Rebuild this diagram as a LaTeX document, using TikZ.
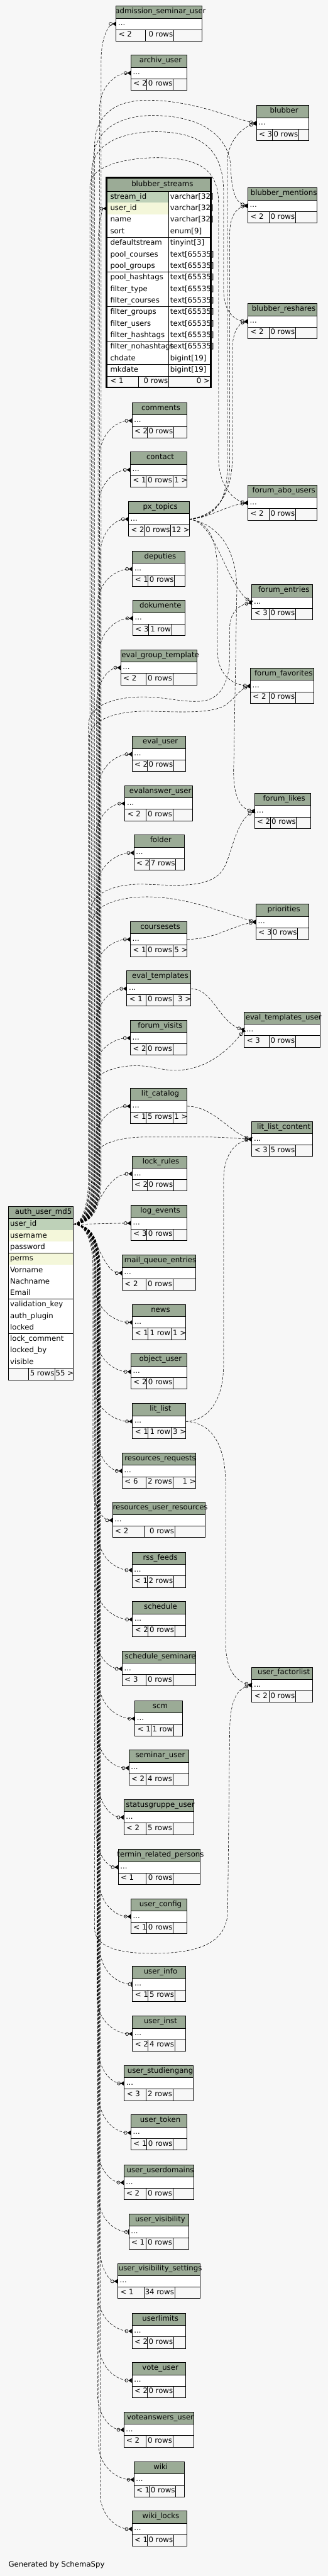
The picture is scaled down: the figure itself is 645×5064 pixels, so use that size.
\documentclass[tikz,border=0pt]{standalone}
\usepackage{fontspec}
\setmainfont{DejaVu Sans}
\usepackage{xcolor}
\definecolor{HeadGreen}{HTML}{9BAB96}
\definecolor{KeyGreen}{HTML}{BED1B8}
\definecolor{IndexCream}{HTML}{F4F7DA}
\definecolor{PaperGrey}{HTML}{F7F7F7}
\usepackage{tikz}
\usetikzlibrary{positioning, arrows.meta}

\newcommand\tblfont{\fontsize{14.5}{17}\selectfont}
\newlength\tblw
\tikzset{
  tblline/.style={draw=black, line width=0.8pt},
  tbltext/.style={font=\tblfont, inner sep=0pt, text=black},
  rel/.style={dash pattern=on 5pt off 3pt, line width=0.7pt},
  crow/.style={-{Circle[open,length=7pt,width=7pt,line width=0.8pt] Triangle[reversed,length=7pt,width=9pt]}},
  zeroone/.style={-{Circle[open,length=7pt,width=7pt,line width=0.8pt] Bar[width=9pt,line width=1.6pt]}},
}

% Tabelle / Table: name, left, right, top, divider 1, divider 2, parents, rows, children
\newcommand\dbtable[9]{%
  \settowidth\tblw{\tblfont\detokenize{#1}}%
  \pgfmathsetmacro\hx{max((#2+#3)/2+3,#2+6+\tblw/2)}%
  \fill[PaperGrey] (#2,#4) rectangle (#3,#4+69);
  \fill[HeadGreen] (#2,#4) rectangle (#3,#4+24);
  \fill[white] (#2,#4+24) rectangle (#3,#4+46.5);
  \draw[tblline] (#2,#4) rectangle (#3,#4+69)
    (#2,#4+24) -- (#3,#4+24) (#2,#4+46.5) -- (#3,#4+46.5)
    (#5,#4+46.5) -- (#5,#4+69) (#6,#4+46.5) -- (#6,#4+69);
  \node[tbltext, anchor=base] (#1-head) at (\hx,#4+15) {\detokenize{#1}};
  \node[tbltext, anchor=base west] (#1-dots) at (#2+4,#4+38.5) {...};
  \node[tbltext, anchor=base west] (#1-in) at (#2+5,#4+61) {#7};
  \node[tbltext, anchor=base east] (#1-rows) at (#6-1,#4+61) {#8};
  \node[tbltext, anchor=base east] (#1-refs) at (#3+1,#4+61) {#9};
  \coordinate (#1) at (#2,#4+35.3);
  \coordinate (#1-out) at (#3,#4+35.3);
}

\begin{document}
\begin{tikzpicture}[x=1pt,y=-1pt]
  \useasboundingbox (0,0) rectangle (645,5064);
  \fill[PaperGrey] (0,0) rectangle (645,5064);

  % Kindtabellen / Child tables
  \dbtable{admission_seminar_user}{228.3}{397.4}{11.7}{285.5}{341.4}{< 2}{0 rows}{}
  \dbtable{archiv_user}{257.5}{368.2}{108.3}{288.8}{340.6}{< 2}{0 rows}{}
  \dbtable{blubber}{504.3}{607.6}{207.3}{535.6}{587.4}{< 3}{0 rows}{}
  \dbtable{blubber_mentions}{487.5}{623.2}{369.3}{529.4}{581.2}{< 2}{0 rows}{}
  \dbtable{blubber_reshares}{487.5}{623.2}{596.7}{529.4}{581.2}{< 2}{0 rows}{}
  \dbtable{comments}{259.6}{367.3}{791.7}{289.6}{341.4}{< 2}{0 rows}{}
  \dbtable{contact}{256.3}{368.2}{888.3}{287.5}{339.8}{< 1}{0 rows}{1 >}
  \dbtable{forum_abo_users}{487.5}{623.2}{953.3}{529.4}{581.2}{< 2}{0 rows}{}
  \dbtable{px_topics}{252.6}{372.3}{985.3}{283.4}{335.7}{< 2}{0 rows}{12 >}
  \dbtable{deputies}{260.4}{364}{1083.3}{291.2}{343.1}{< 1}{0 rows}{}
  \dbtable{forum_entries}{495.3}{615.4}{1149.3}{529.4}{581.2}{< 3}{0 rows}{}
  \dbtable{dokumente}{261.2}{364}{1180.3}{292.5}{337.3}{< 3}{1 row}{}
  \dbtable{eval_group_template}{237.4}{387.5}{1277.3}{287.5}{339.8}{< 2}{0 rows}{}
  \dbtable{forum_favorites}{492.4}{617.4}{1313.3}{529.4}{581.2}{< 2}{0 rows}{}
  \dbtable{eval_user}{259.6}{365.3}{1447.3}{289.6}{341.4}{< 2}{0 rows}{}
  \dbtable{evalanswer_user}{245.6}{379.3}{1544.3}{287.5}{339.8}{< 2}{0 rows}{}
  \dbtable{forum_likes}{500.6}{611.3}{1559.3}{531.5}{583.3}{< 2}{0 rows}{}
  \dbtable{folder}{263.3}{363.2}{1641.3}{293.3}{345.5}{< 2}{7 rows}{}
  \dbtable{priorities}{503.5}{607.2}{1777.3}{533.5}{585.4}{< 3}{0 rows}{}
  \dbtable{coursesets}{256.3}{368.2}{1811.3}{287.5}{339.8}{< 1}{0 rows}{5 >}
  \dbtable{eval_templates}{249.3}{375.2}{1908.3}{287.5}{339.8}{< 1}{0 rows}{3 >}
  \dbtable{eval_templates_user}{480.5}{629.4}{1989.3}{529.4}{581.2}{< 3}{0 rows}{}
  \dbtable{forum_visits}{256.3}{368.2}{2005.3}{287.5}{339.8}{< 2}{0 rows}{}
  \dbtable{lit_catalog}{256.3}{368.2}{2139.3}{287.5}{339.8}{< 1}{5 rows}{1 >}
  \dbtable{lit_list_content}{495.3}{615.4}{2204.3}{529.4}{581.2}{< 3}{5 rows}{}
  \dbtable{lock_rules}{259.6}{367.3}{2272.3}{289.6}{341.4}{< 2}{0 rows}{}
  \dbtable{log_events}{257.5}{367.3}{2369.3}{288.8}{340.6}{< 3}{0 rows}{}
  \dbtable{mail_queue_entries}{240.2}{384.6}{2467.3}{287.5}{339.8}{< 2}{0 rows}{}
  \dbtable{news}{260.4}{365.3}{2564.3}{291.2}{336.5}{< 1}{1 row}{1 >}
  \dbtable{object_user}{257.5}{368.2}{2661.3}{288.8}{340.6}{< 2}{0 rows}{}
  \dbtable{lit_list}{260.4}{365.3}{2759}{291.2}{336.5}{< 1}{1 row}{3 >}
  \dbtable{resources_requests}{240.2}{384.6}{2856.3}{287.5}{339.8}{< 6}{2 rows}{1 >}
  \dbtable{resources_user_resources}{221.3}{403.5}{2953.3}{283.4}{343.5}{< 2}{0 rows}{}
  \dbtable{rss_feeds}{259.6}{365.3}{3051.3}{289.6}{341.4}{< 1}{2 rows}{}
  \dbtable{schedule}{260.4}{365.3}{3148.3}{291.2}{343.5}{< 2}{0 rows}{}
  \dbtable{schedule_seminare}{240.2}{384.6}{3245.3}{287.5}{339.8}{< 3}{0 rows}{}
  \dbtable{user_factorlist}{495.3}{615.4}{3277.3}{529.4}{581.2}{< 2}{0 rows}{}
  \dbtable{scm}{265.3}{359.1}{3343.3}{296.6}{341.4}{< 1}{1 row}{}
  \dbtable{seminar_user}{253.4}{371}{3440.3}{287.5}{339.8}{< 2}{4 rows}{}
  \dbtable{statusgruppe_user}{243.5}{381.3}{3537.3}{287.5}{339.8}{< 2}{5 rows}{}
  \dbtable{termin_related_persons}{232.4}{393.3}{3635.3}{287.5}{340.6}{< 1}{0 rows}{}
  \dbtable{user_config}{257.5}{368.2}{3732.3}{288.8}{340.6}{< 1}{0 rows}{}
  \dbtable{user_info}{260.4}{365.3}{3865.3}{291.2}{343.5}{< 1}{5 rows}{}
  \dbtable{user_inst}{260.4}{365.3}{3963}{291.2}{343.5}{< 2}{4 rows}{}
  \dbtable{user_studiengang}{244.3}{380.5}{4060.3}{287.5}{339.8}{< 3}{2 rows}{}
  \dbtable{user_token}{257.5}{367.3}{4157.3}{288.8}{340.6}{< 1}{0 rows}{}
  \dbtable{user_userdomains}{243.5}{381.3}{4255.3}{287.5}{339.8}{< 2}{0 rows}{}
  \dbtable{user_visibility}{253.4}{371}{4352.3}{287.5}{339.8}{< 1}{0 rows}{}
  \dbtable{user_visibility_settings}{231.6}{393.3}{4449.3}{283.4}{343.5}{< 1}{34 rows}{}
  \dbtable{userlimits}{259.6}{365.3}{4547.3}{289.6}{341.4}{< 2}{0 rows}{}
  \dbtable{vote_user}{259.6}{365.3}{4644.3}{289.6}{341.4}{< 2}{0 rows}{}
  \dbtable{voteanswers_user}{243.5}{381.3}{4741.3}{287.5}{339.8}{< 2}{0 rows}{}
  \dbtable{wiki}{263.3}{363.2}{4839.3}{293.3}{345.5}{< 1}{0 rows}{}
  \dbtable{wiki_locks}{259.6}{367.3}{4936.3}{289.6}{341.4}{< 1}{0 rows}{}

  % blubber_streams mit Spalten / with columns
  \fill[PaperGrey] (209.8,349.3) rectangle (414.6,761.7);
  \fill[HeadGreen] (209.8,349.3) rectangle (414.6,376);
  \foreach \col/\typ/\shade [count=\i from 0] in {stream\_id/varchar[32]/KeyGreen, user\_id/varchar[32]/IndexCream,
      name/varchar[32]/white, sort/enum[9]/white, defaultstream/tinyint[3]/white, pool\_courses/text[65535]/white,
      pool\_groups/text[65535]/white, pool\_hashtags/text[65535]/white, filter\_type/text[65535]/white,
      filter\_courses/text[65535]/white, filter\_groups/text[65535]/white, filter\_users/text[65535]/white,
      filter\_hashtags/text[65535]/white, filter\_nohashtags/text[65535]/white, chdate/bigint[19]/white, mkdate/bigint[19]/white}{
    \fill[\shade] (209.8,376+22.7*\i) rectangle (331.6,398.7+22.7*\i);
    \fill[white] (331.6,376+22.7*\i) rectangle (414.6,398.7+22.7*\i);
    \draw[tblline] (209.8,398.7+22.7*\i) -- (414.6,398.7+22.7*\i);
    \node[tbltext, anchor=base west] (bs-col\i) at (216.8,391+22.7*\i) {\col};
    \node[tbltext, anchor=base west] (bs-typ\i) at (334.8,391+22.7*\i) {\typ};
  }
  \draw[tblline] (209.8,376) -- (414.6,376) (331.6,376) -- (331.6,761.7) (272.3,739.2) -- (272.3,761.7);
  \draw[line width=3pt] (209.8,349.3) rectangle (414.6,761.7);
  \node[tbltext, anchor=base] (bs-head) at (319.4,366.5) {blubber\_streams};
  \node[tbltext, anchor=base west] (bs-in) at (216.8,754) {< 1};
  \node[tbltext, anchor=base east] (bs-rows) at (330.6,754) {0 rows};
  \node[tbltext, anchor=base east] (bs-refs) at (413,754) {0 >};
  \coordinate (blubber_streams) at (209.8,410);

  % auth_user_md5 mit Spalten / with columns
  \fill[PaperGrey] (16.5,2371.7) rectangle (144,2712.3);
  \fill[HeadGreen] (16.5,2371.7) rectangle (144,2395.7);
  \foreach \col/\shade [count=\i from 0] in {user\_id/KeyGreen, username/IndexCream, password/white, perms/IndexCream,
      Vorname/white, Nachname/white, Email/white, validation\_key/white, auth\_plugin/white, locked/white,
      lock\_comment/white, locked\_by/white, visible/white}{
    \fill[\shade] (16.5,2395.7+22.6*\i) rectangle (144,2418.3+22.6*\i);
    \draw[tblline] (16.5,2418.3+22.6*\i) -- (144,2418.3+22.6*\i);
    \node[tbltext, anchor=base west] (au-col\i) at (19.7,2410.7+22.6*\i) {\col};
  }
  \draw[tblline] (16.5,2371.7) rectangle (144,2712.3) (16.5,2395.7) -- (144,2395.7)
    (55.5,2689.5) -- (55.5,2712.3) (107.8,2689.5) -- (107.8,2712.3);
  \node[tbltext, anchor=base] (au-head) at (85.4,2386.7) {auth\_user\_md5};
  \node[tbltext, anchor=base east] (au-rows) at (107,2704.5) {5 rows};
  \node[tbltext, anchor=base east] (au-refs) at (145,2704.5) {55 >};
  \coordinate (auth_user_md5) at (144,2406.5);

  % Buendel zur linken Spalte / Bundle to the left column
  \foreach \tb/\bx/\tip in {admission_seminar_user/199/crow, archiv_user/196/crow, blubber_streams/193/crow,
      comments/196/crow, contact/194/crow, px_topics/197/crow, deputies/192/crow, dokumente/195/crow,
      eval_group_template/190/crow, eval_user/193/crow, evalanswer_user/188/crow, folder/191/crow,
      coursesets/186/crow, eval_templates/189/crow, forum_visits/184/crow, lit_catalog/187/crow,
      lock_rules/190/crow, log_events/190/crow, mail_queue_entries/190/crow, news/187/crow,
      object_user/189/crow, lit_list/185/crow, resources_requests/191/crow, resources_user_resources/183/crow,
      rss_feeds/193/crow, schedule/189/crow, schedule_seminare/187/crow, scm/195/crow, seminar_user/191/crow,
      statusgruppe_user/193/crow, termin_related_persons/189/crow, user_config/195/crow, user_info/197/zeroone,
      user_inst/191/crow, user_studiengang/193/crow, user_token/195/crow, user_userdomains/192/crow,
      user_visibility/194/zeroone, user_visibility_settings/196/crow, userlimits/193/crow, vote_user/195/crow,
      voteanswers_user/192/crow, wiki/194/crow, wiki_locks/197/crow}{
    \path (\tb); \pgfgetlastxy{\cx}{\cy}
    \pgfmathsetmacro\xc{\cx}
    \pgfmathsetmacro\yc{-1*\cy}
    \pgfmathsetmacro\sg{ifthenelse(\yc<2406.5,-1,1)}
    \pgfmathtruncatemacro\near{abs(\yc-2406.5)<150}
    \ifnum\near=1
      \draw[rel,\tip] (auth_user_md5) .. controls (\bx,2406.5) and (\bx+10,\yc) .. (\tb);
    \else
      \draw[rel,\tip] (auth_user_md5) .. controls (\bx-12,2406.5) and (\bx,2406.5+40*\sg) .. (\bx,2406.5+90*\sg)
        -- (\bx,\yc-70*\sg) .. controls (\bx,\yc-28*\sg) and ({(\bx+\xc)/2},\yc) .. (\tb);
    \fi
  }

  % Boegen zur rechten Spalte / Arcs to the right column
  \draw[rel,crow] (auth_user_md5) .. controls (174,2406.5) and (186,2366.5) .. (186,2316.5) -- (186,290)
    .. controls (186,215) and (240,197) .. (290,197) .. controls (380,197) and (455,232) .. (blubber);
  \draw[rel,crow] (auth_user_md5) .. controls (171,2406.5) and (183,2366.5) .. (183,2316.5) -- (183,320)
    .. controls (183,245) and (250,227) .. (300,227) .. controls (400,227) and (452,270) .. (454,330)
    .. controls (456,375) and (462,398) .. (blubber_mentions);
  \draw[rel,crow] (auth_user_md5) .. controls (168,2406.5) and (180,2366.5) .. (180,2316.5) -- (180,340)
    .. controls (180,275) and (255,259) .. (305,259) .. controls (405,259) and (440,300) .. (440,380) -- (440,570)
    .. controls (440,612) and (460,630) .. (blubber_reshares);
  \draw[rel,crow] (auth_user_md5) .. controls (165,2406.5) and (177,2366.5) .. (177,2316.5) -- (177,365)
    .. controls (177,322) and (260,310) .. (308,310) .. controls (395,310) and (430,335) .. (430,400) -- (430,900)
    .. controls (430,955) and (460,985) .. (forum_abo_users);
  \draw[rel,crow] (auth_user_md5) .. controls (162,2406.5) and (174,2366.5) .. (174,2316.5) -- (174,1425)
    .. controls (174,1385) and (230,1370) .. (280,1370) .. controls (330,1370) and (360,1382) .. (400,1378)
    .. controls (440,1372) and (452,1330) .. (452,1290) -- (452,1235) .. controls (452,1205) and (468,1190) .. (forum_entries);
  \draw[rel,crow] (auth_user_md5) .. controls (164,2406.5) and (176,2366.5) .. (176,2316.5) -- (176,1450)
    .. controls (176,1410) and (240,1398) .. (290,1398) .. controls (360,1400) and (420,1403) .. (445,1385)
    .. controls (465,1370) and (472,1355) .. (forum_favorites);
  \draw[rel,crow] (auth_user_md5) .. controls (166,2406.5) and (178,2366.5) .. (178,2316.5) -- (178,1795)
    .. controls (178,1750) and (235,1738) .. (280,1738) .. controls (340,1740) and (410,1748) .. (437,1712)
    .. controls (455,1688) and (462,1615) .. (forum_likes);
  \draw[rel,crow] (auth_user_md5) .. controls (169,2406.5) and (181,2366.5) .. (181,2316.5) -- (181,1815)
    .. controls (181,1775) and (245,1763) .. (288,1763) .. controls (370,1763) and (440,1795) .. (priorities);
  \draw[rel,crow] (auth_user_md5) .. controls (170,2406.5) and (182,2366.5) .. (182,2316.5) -- (182,2140)
    .. controls (182,2108) and (230,2095) .. (267,2095) .. controls (300,2095) and (315,2104) .. (345,2104)
    .. controls (405,2104) and (450,2065) .. (eval_templates_user);
  \draw[rel,crow] (auth_user_md5) .. controls (173,2406.5) and (185,2366.5) .. (185,2316.5) -- (185,2280)
    .. controls (185,2248) and (235,2235) .. (290,2235) -- (400,2235) .. controls (440,2235) and (465,2238) .. (lit_list_content);
  \draw[rel,crow] (auth_user_md5) .. controls (174,2406.5) and (186,2446.5) .. (186,2496.5) -- (186,3790)
    .. controls (186,3830) and (240,3840) .. (300,3840) .. controls (390,3840) and (445,3820) .. (448,3760)
    -- (452,3400) .. controls (453,3345) and (465,3320) .. (user_factorlist);

  % Weitere Eltern / Further parents
  \draw[rel,crow] (px_topics-out) .. controls (420,1018) and (447,990) .. (447,920) -- (447,320)
    .. controls (447,285) and (470,252) .. (blubber);
  \draw[rel,crow] (px_topics-out) .. controls (420,1016) and (452,985) .. (452,910) -- (452,460)
    .. controls (452,425) and (465,408) .. (blubber_mentions);
  \draw[rel,crow] (px_topics-out) .. controls (420,1014) and (457,980) .. (457,900) -- (457,690)
    .. controls (457,655) and (468,636) .. (blubber_reshares);
  \draw[rel,crow] (px_topics-out) .. controls (415,1018) and (440,995) .. (forum_abo_users);
  \draw[rel,crow] (px_topics-out) .. controls (425,1025) and (445,1150) .. (forum_entries);
  \draw[rel,crow] (px_topics-out) .. controls (410,1025) and (428,1060) .. (428,1130) -- (428,1280)
    .. controls (428,1325) and (455,1346) .. (forum_favorites);
  \draw[rel,crow] (px_topics-out) .. controls (430,1030) and (466,1080) .. (466,1160) -- (460,1500)
    .. controls (457,1560) and (470,1590) .. (forum_likes);
  \draw[rel,crow] (coursesets-out) .. controls (425,1846) and (455,1820) .. (priorities);
  \draw[rel,crow] (eval_templates-out) .. controls (420,1944) and (430,2010) .. (eval_templates_user);
  \draw[rel,crow] (lit_catalog-out) .. controls (420,2175) and (450,2225) .. (lit_list_content);
  \draw[rel,crow] (lit_list-out) .. controls (405,2793) and (440,2760) .. (440,2680) -- (440,2320)
    .. controls (440,2270) and (462,2245) .. (lit_list_content);
  \draw[rel,crow] (lit_list-out) .. controls (410,2796) and (444,2830) .. (444,2920) -- (444,3230)
    .. controls (444,3280) and (462,3305) .. (user_factorlist);

  \node[tbltext, anchor=base west] (credit) at (16.5,5046.5) {Generated by SchemaSpy};
\end{tikzpicture}
\end{document}
